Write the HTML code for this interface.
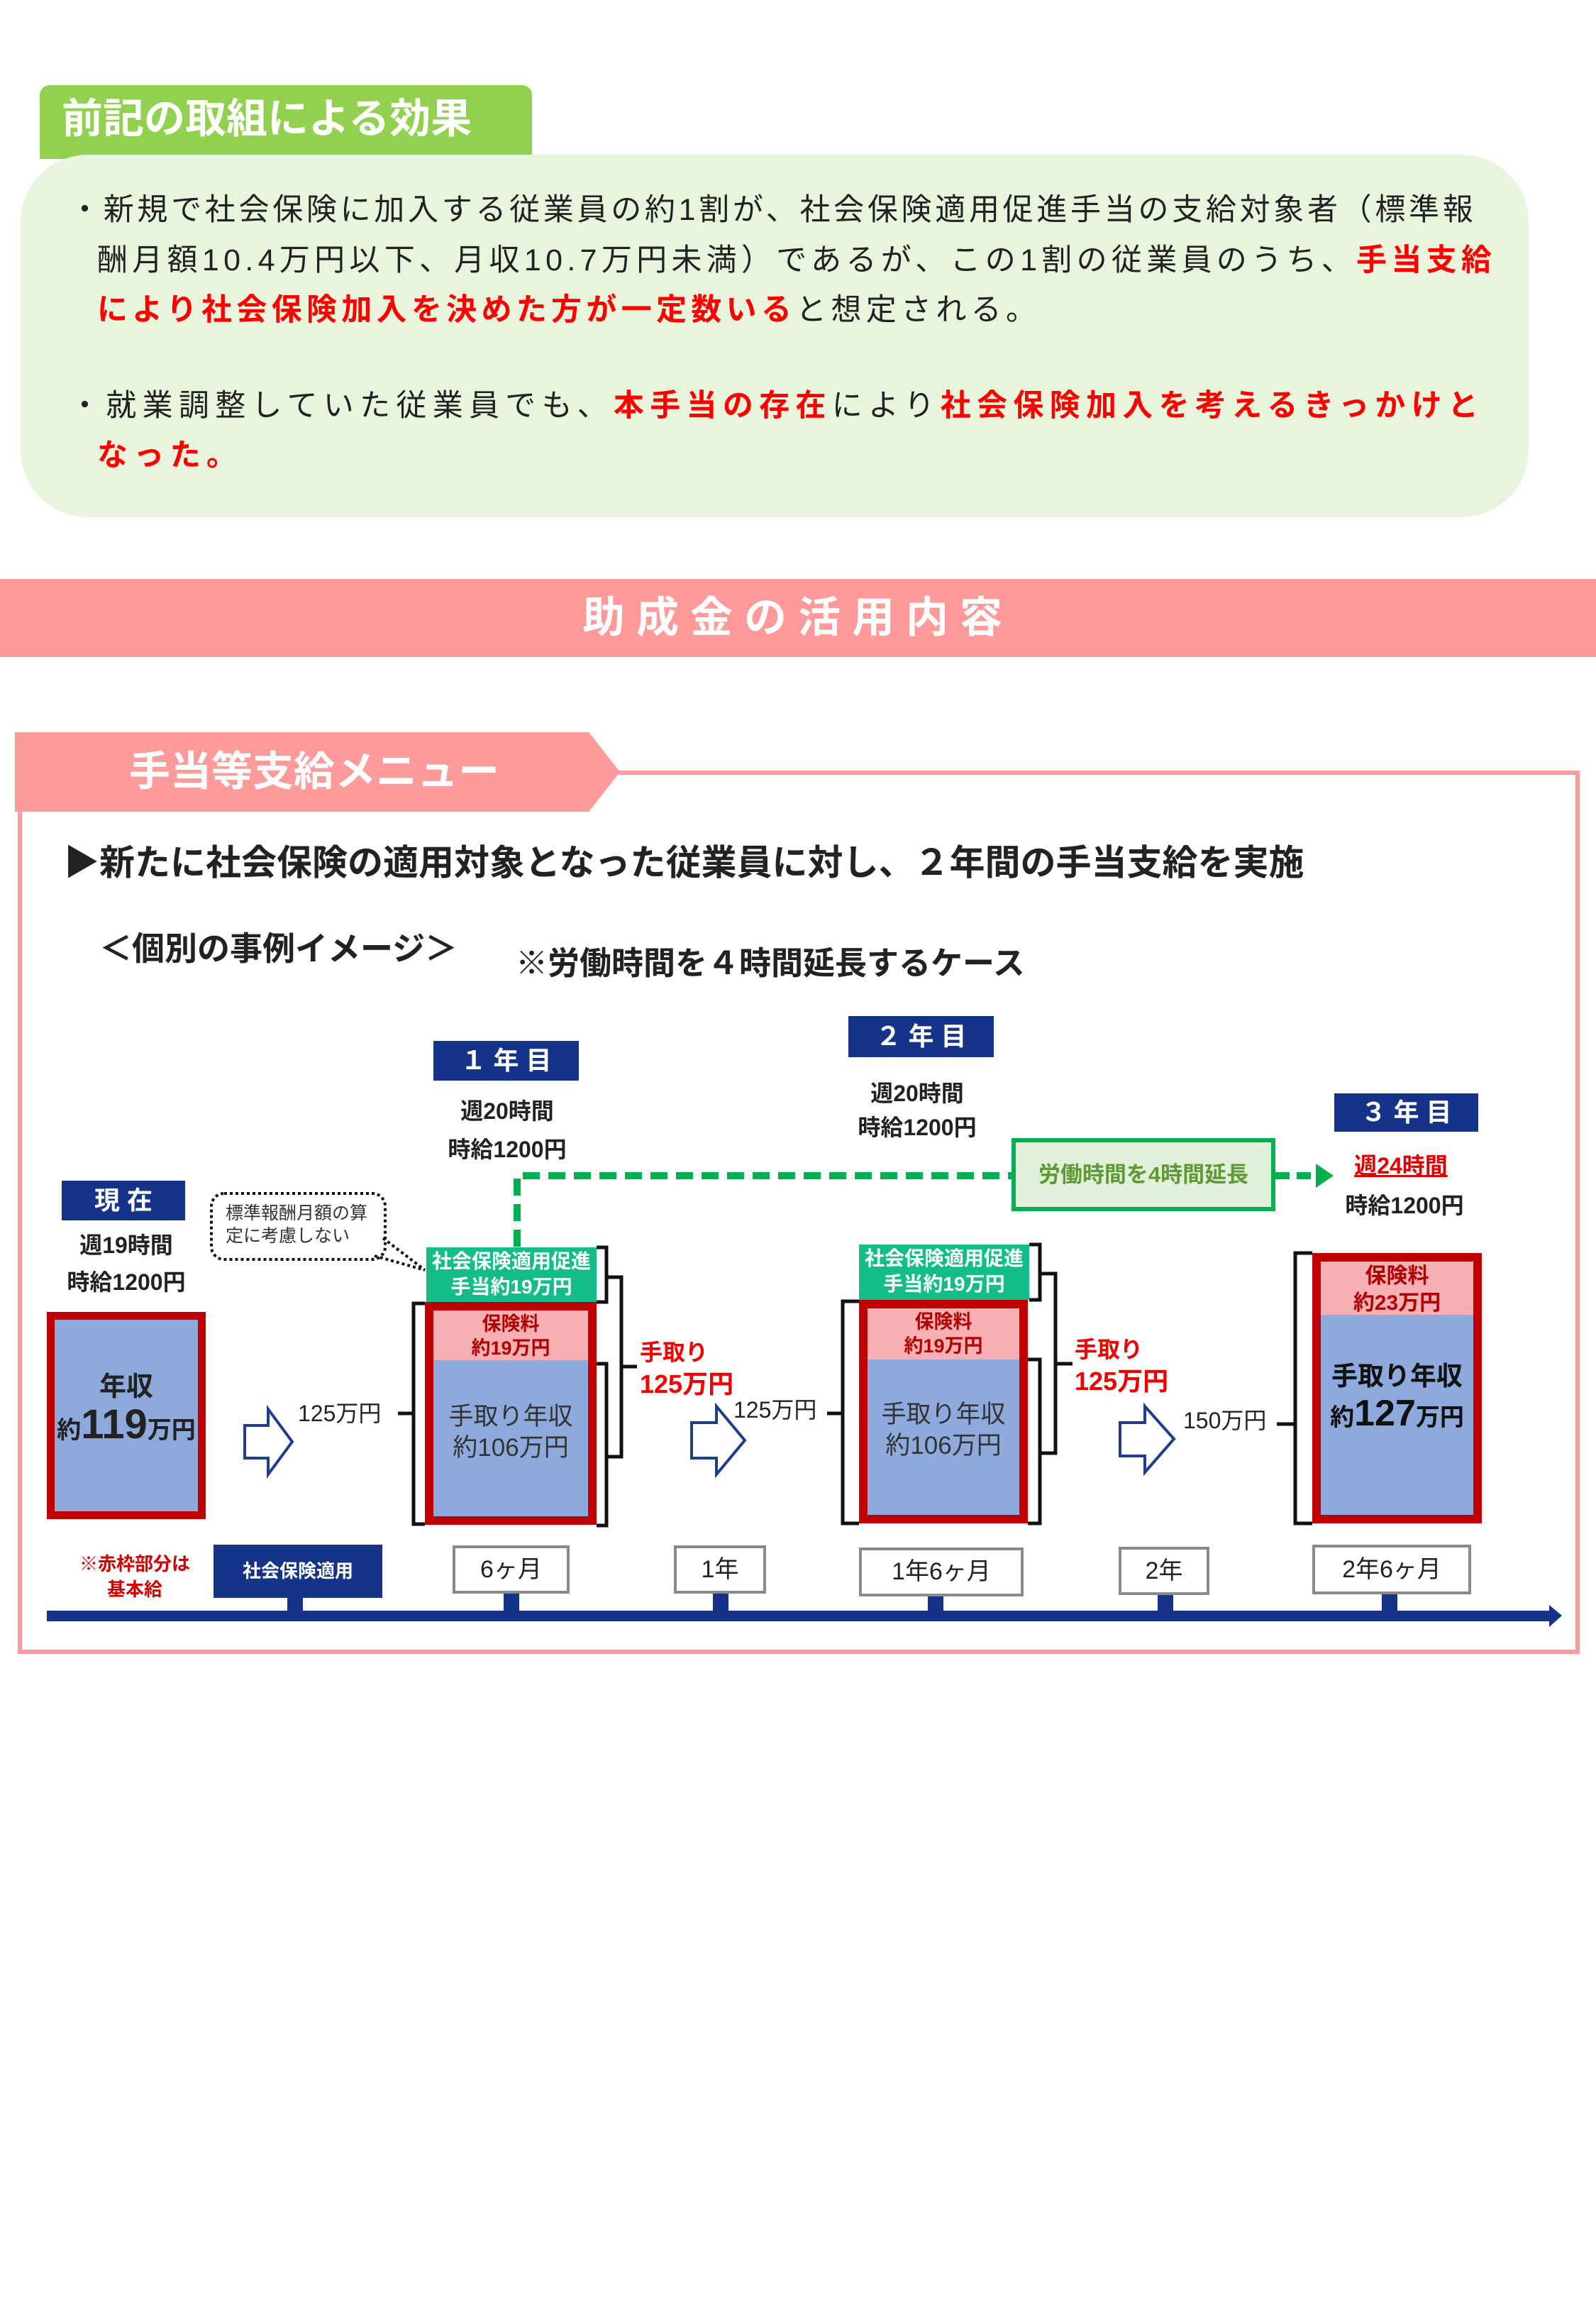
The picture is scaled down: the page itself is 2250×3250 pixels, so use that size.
<!DOCTYPE html>
<html><head><meta charset="utf-8">
<style>
*{margin:0;padding:0;box-sizing:border-box}
body{width:2250px;height:3250px;background:#fff;position:relative;overflow:hidden;font-family:"Liberation Sans","Noto Sans CJK JP",sans-serif;color:#222}
.a{position:absolute;white-space:nowrap}
.c{text-align:center}
.b{font-weight:bold}
.r{color:#ff0000;font-weight:bold}
.nav{position:absolute;background:#16338a;color:#fff;font-weight:bold;text-align:center}
.tl{position:absolute;background:#fff;border:4px solid #8a8a8a;text-align:center;font-size:34px;color:#222}
</style></head><body>

<!-- Top section -->
<div class="a" style="left:56px;top:120px;width:694px;height:104px;background:#92d050;border-radius:14px 14px 0 0"></div>
<div class="a b" style="left:87px;top:128px;font-size:58px;line-height:80px;color:#fff">前記の取組による効果</div>
<div class="a" style="left:29px;top:218px;width:2126px;height:511px;background:#e8f5dc;border-radius:95px"></div>
<div class="a" style="left:98px;top:266px;font-size:43px;line-height:60px;letter-spacing:4.7px">・新規で社会保険に加入する従業員の約1割が、社会保険適用促進手当の支給対象者（標準報</div>
<div class="a" style="left:137px;top:337px;font-size:43px;line-height:60px;letter-spacing:6.3px">酬月額10.4万円以下、月収10.7万円未満）であるが、この1割の従業員のうち、<span class="r">手当支給</span></div>
<div class="a" style="left:137px;top:407px;font-size:43px;line-height:60px;letter-spacing:6.3px"><span class="r">により社会保険加入を決めた方が一定数いる</span>と想定される。</div>
<div class="a" style="left:98px;top:542px;font-size:43px;line-height:60px;letter-spacing:8.3px">・就業調整していた従業員でも、<span class="r">本手当の存在</span>により<span class="r">社会保険加入を考えるきっかけと</span></div>
<div class="a" style="left:137px;top:612px;font-size:43px;line-height:60px;letter-spacing:8.3px"><span class="r">なった。</span></div>

<!-- Pink band -->
<div class="a" style="left:0;top:816px;width:2250px;height:110px;background:#ff9a9a"></div>
<div class="a b c" style="left:0;top:816px;width:2250px;font-size:60px;line-height:110px;color:#fff;letter-spacing:16px">助成金の活用内容</div>

<!-- Menu frame -->
<div class="a" style="left:25px;top:1086px;width:2202px;height:1245px;border:6px solid #ff9a9a"></div>
<svg class="a" style="left:0;top:0" width="2250" height="3250">
<polygon points="21,1032 830,1032 874,1088 830,1144 21,1144" fill="#ff9a9a"/>
</svg>
<div class="a b" style="left:182px;top:1050px;font-size:58px;line-height:76px;color:#fff">手当等支給メニュー</div>

<div class="a b" style="left:90px;top:1184px;font-size:50px;line-height:64px">▶新たに社会保険の適用対象となった従業員に対し、２年間の手当支給を実施</div>
<div class="a b" style="left:140px;top:1308px;font-size:46px;line-height:58px">＜個別の事例イメージ＞</div>
<div class="a b" style="left:727px;top:1329px;font-size:45px;line-height:58px">※労働時間を４時間延長するケース</div>

<!-- Year labels -->
<div class="nav" style="left:611px;top:1467px;width:205px;height:56px;font-size:36px;line-height:56px">１ 年 目</div>
<div class="nav" style="left:1196px;top:1432px;width:205px;height:58px;font-size:36px;line-height:58px">２ 年 目</div>
<div class="nav" style="left:1881px;top:1541px;width:203px;height:54px;font-size:36px;line-height:54px">３ 年 目</div>
<div class="nav" style="left:87px;top:1664px;width:174px;height:56px;font-size:36px;line-height:56px">現 在</div>

<div class="a b c" style="left:615px;top:1544px;width:200px;font-size:32px;line-height:44px">週20時間</div>
<div class="a b c" style="left:615px;top:1598px;width:200px;font-size:32px;line-height:44px">時給1200円</div>
<div class="a b c" style="left:1193px;top:1519px;width:200px;font-size:32px;line-height:44px">週20時間</div>
<div class="a b c" style="left:1193px;top:1567px;width:200px;font-size:32px;line-height:44px">時給1200円</div>
<div class="a b c" style="left:1875px;top:1621px;width:200px;font-size:32px;line-height:44px;color:#e00000;text-decoration:underline">週24時間</div>
<div class="a b c" style="left:1880px;top:1677px;width:200px;font-size:32px;line-height:44px">時給1200円</div>
<div class="a b c" style="left:78px;top:1733px;width:200px;font-size:32px;line-height:44px">週19時間</div>
<div class="a b c" style="left:78px;top:1785px;width:200px;font-size:32px;line-height:44px">時給1200円</div>

<!-- Green label -->
<div class="a" style="left:1426px;top:1604px;width:372px;height:103px;background:#e2efda;border:6px solid #00b050"></div>
<div class="a b c" style="left:1426px;top:1604px;width:372px;font-size:31px;line-height:103px;color:#5f9a35">労働時間を4時間延長</div>

<!-- Stacks -->
<div class="a" style="left:66px;top:1849px;width:224px;height:292px;background:#8eaadc;border:11px solid #c00000"></div>
<div class="a b c" style="left:66px;top:1930px;width:224px;font-size:38px;line-height:50px">年収</div>
<div class="a b c" style="left:60px;top:1975px;width:236px;font-size:34px;line-height:66px">約<span style="font-size:58px">119</span>万円</div>

<div class="a" style="left:601px;top:1758px;width:240px;height:77px;background:#14bd86"></div>
<div class="a b c" style="left:596px;top:1760px;width:250px;font-size:28px;line-height:36px;color:#fff">社会保険適用促進<br>手当約19万円</div>
<div class="a" style="left:599px;top:1835px;width:242px;height:314px;background:#8eaadc;border:12px solid #c00000"></div>
<div class="a" style="left:611px;top:1847px;width:218px;height:70px;background:#f8b0b4"></div>
<div class="a b c" style="left:599px;top:1849px;width:242px;font-size:27px;line-height:34px;color:#b00000">保険料<br>約19万円</div>
<div class="a c" style="left:599px;top:1975px;width:242px;font-size:35px;line-height:44px;color:#333">手取り年収<br>約106万円</div>

<div class="a" style="left:1211px;top:1754px;width:240px;height:78px;background:#14bd86"></div>
<div class="a b c" style="left:1206px;top:1756px;width:250px;font-size:28px;line-height:36px;color:#fff">社会保険適用促進<br>手当約19万円</div>
<div class="a" style="left:1211px;top:1832px;width:238px;height:315px;background:#8eaadc;border:12px solid #c00000"></div>
<div class="a" style="left:1223px;top:1844px;width:214px;height:72px;background:#f8b0b4"></div>
<div class="a b c" style="left:1211px;top:1846px;width:238px;font-size:27px;line-height:34px;color:#b00000">保険料<br>約19万円</div>
<div class="a c" style="left:1211px;top:1972px;width:238px;font-size:35px;line-height:44px;color:#333">手取り年収<br>約106万円</div>

<div class="a" style="left:1850px;top:1766px;width:239px;height:381px;background:#8eaadc;border:12px solid #c00000"></div>
<div class="a" style="left:1862px;top:1778px;width:215px;height:75px;background:#f8b0b4"></div>
<div class="a b c" style="left:1850px;top:1780px;width:239px;font-size:30px;line-height:38px;color:#b00000">保険料<br>約23万円</div>
<div class="a b c" style="left:1850px;top:1915px;width:239px;font-size:37px;line-height:50px;color:#111">手取り年収</div>
<div class="a b c" style="left:1846px;top:1962px;width:247px;font-size:34px;line-height:60px;color:#111">約<span style="font-size:52px">127</span>万円</div>

<!-- Side labels -->
<div class="a" style="left:420px;top:1972px;font-size:32px;line-height:40px">125万円</div>
<div class="a" style="left:1034px;top:1967px;font-size:32px;line-height:40px">125万円</div>
<div class="a" style="left:1668px;top:1982px;font-size:32px;line-height:40px">150万円</div>
<div class="a b" style="left:902px;top:1884px;font-size:32px;line-height:44px;color:#f00000">手取り</div>
<div class="a b" style="left:902px;top:1928px;font-size:36px;line-height:46px;color:#f00000">125万円</div>
<div class="a b" style="left:1515px;top:1880px;font-size:32px;line-height:44px;color:#f00000">手取り</div>
<div class="a b" style="left:1515px;top:1924px;font-size:36px;line-height:46px;color:#f00000">125万円</div>

<!-- Timeline labels -->
<div class="a b c" style="left:90px;top:2186px;width:200px;font-size:26px;line-height:36px;color:#d00000">※赤枠部分は<br>基本給</div>
<div class="nav" style="left:301px;top:2177px;width:238px;height:75px;font-size:26px;line-height:75px">社会保険適用</div>
<div class="tl" style="left:638px;top:2178px;width:165px;height:68px;line-height:60px">6ヶ月</div>
<div class="tl" style="left:950px;top:2178px;width:130px;height:68px;line-height:60px">1年</div>
<div class="tl" style="left:1211px;top:2181px;width:232px;height:69px;line-height:61px">1年6ヶ月</div>
<div class="tl" style="left:1577px;top:2180px;width:128px;height:68px;line-height:60px">2年</div>
<div class="tl" style="left:1850px;top:2177px;width:224px;height:70px;line-height:62px">2年6ヶ月</div>

<svg class="a" style="left:0;top:0" width="2250" height="3250">
<rect x="298" y="1682" width="245" height="93" rx="18" fill="none" stroke="#111" stroke-width="4" stroke-dasharray="4 4"/>
<path d="M540,1745 L599,1790 M528,1770 L599,1790" stroke="#111" stroke-width="4" stroke-dasharray="4 4" fill="none"/>
<path d="M729,1757 L729,1657 L1426,1657" stroke="#00b050" stroke-width="10" stroke-dasharray="24 12" fill="none"/>
<path d="M1798,1657 L1855,1657" stroke="#00b050" stroke-width="10" stroke-dasharray="20 10" fill="none"/>
<polygon points="1855,1640 1880,1657 1855,1674" fill="#00b050"/>
<g fill="#fff" stroke="#1f3d8c" stroke-width="4">
<polygon points="345,2009 378,2009 378,1986 412,2032 378,2078 378,2055 345,2055"/>
<polygon points="975,2005 1010,2005 1010,1982 1050,2030 1010,2078 1010,2055 975,2055"/>
<polygon points="1579,2005 1614,2005 1614,1982 1655,2028 1614,2075 1614,2052 1579,2052"/>
</g>
<g fill="none" stroke="#111" stroke-width="5">
<path d="M599,1837 L583,1837 L583,2148 L599,2148 M583,1992 L561,1992"/>
<path d="M841,1758 L855,1758 L855,1835 L841,1835"/>
<path d="M841,1922 L855,1922 L855,2150 L841,2150"/>
<path d="M855,1800 L876,1800 L876,2053 L855,2053 M876,1926 L898,1926"/>
<path d="M1211,1834 L1188,1834 L1188,2147 L1211,2147 M1188,1992 L1166,1992"/>
<path d="M1451,1754 L1466,1754 L1466,1832 L1451,1832"/>
<path d="M1449,1916 L1466,1916 L1466,2147 L1449,2147"/>
<path d="M1466,1795 L1488,1795 L1488,2048 L1466,2048 M1488,1922 L1512,1922"/>
<path d="M1850,1766 L1826,1766 L1826,2147 L1850,2147 M1826,2007 L1800,2007"/>
</g>
<rect x="66" y="2270" width="2120" height="15" fill="#16338a"/>
<polygon points="2184,2262 2202,2277 2184,2293" fill="#16338a"/>
<g fill="#16338a">
<rect x="405" y="2252" width="22" height="20"/>
<rect x="710" y="2246" width="22" height="26"/>
<rect x="1005" y="2246" width="22" height="26"/>
<rect x="1308" y="2250" width="22" height="22"/>
<rect x="1632" y="2248" width="22" height="24"/>
<rect x="1948" y="2247" width="22" height="25"/>
</g>
</svg>
<div class="a" style="left:318px;top:1694px;font-size:25px;line-height:32px;color:#333">標準報酬月額の算<br>定に考慮しない</div>
</body></html>
